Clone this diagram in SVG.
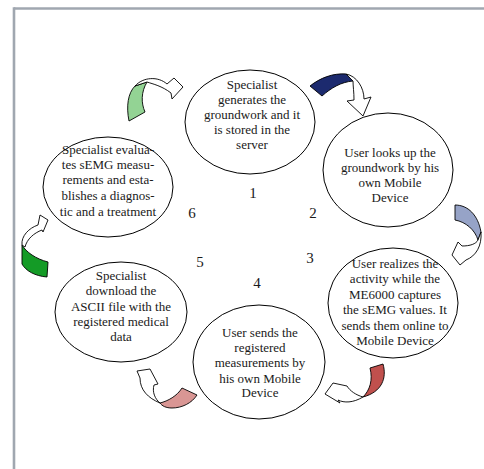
<svg xmlns="http://www.w3.org/2000/svg" width="484" height="469" viewBox="0 0 484 469">
<style>
.frame{stroke:#a0a7b0;stroke-width:2.6;fill:none}
.node ellipse{fill:#fff;stroke:#000;stroke-width:1}
.node text{font-family:"Liberation Serif","Times New Roman",serif;font-size:13px;fill:#1a1a1a;text-anchor:middle}
.num{font-family:"Liberation Serif","Times New Roman",serif;font-size:15px;fill:#1a1a1a;text-anchor:middle}
.conn path{stroke:#000;stroke-width:0.9;stroke-linejoin:round}
.w{fill:#fff}
</style>
<rect width="484" height="469" fill="#fff"/>
<line class="frame" x1="14" y1="8.5" x2="484" y2="8.5"/>
<line class="frame" x1="14" y1="7.2" x2="14" y2="469"/>

<g id="n1" class="node">
<ellipse cx="250" cy="122" rx="65" ry="52"/>
<text x="252"><tspan x="252" y="89">Specialist</tspan><tspan x="252" y="104">generates the</tspan><tspan x="252" y="119">groundwork and it</tspan><tspan x="252" y="134">is stored in the</tspan><tspan x="252" y="149">server</tspan></text>
</g>
<g id="n2" class="node">
<ellipse cx="388" cy="170" rx="65" ry="57"/>
<text><tspan x="390" y="157">User looks up the</tspan><tspan x="390" y="172">groundwork by his</tspan><tspan x="390" y="187">own Mobile</tspan><tspan x="390" y="202">Device</tspan></text>
</g>
<g id="n3" class="node">
<ellipse cx="393" cy="303" rx="65" ry="55"/>
<text><tspan x="395" y="268">User realizes the</tspan><tspan x="395" y="283">activity while the</tspan><tspan x="395" y="299">ME6000 captures</tspan><tspan x="395" y="314">the sEMG values. It</tspan><tspan x="395" y="330">sends them online to</tspan><tspan x="395" y="345">Mobile Device</tspan></text>
</g>
<g id="n4" class="node">
<ellipse cx="259" cy="362" rx="66" ry="57"/>
<text><tspan x="260" y="337">User sends the</tspan><tspan x="260" y="352">registered</tspan><tspan x="260" y="367">measurements by</tspan><tspan x="260" y="383">his own Mobile</tspan><tspan x="260" y="397">Device</tspan></text>
</g>
<g id="n5" class="node">
<ellipse cx="121" cy="312" rx="66" ry="50"/>
<text><tspan x="121" y="280">Specialist</tspan><tspan x="121" y="295">download the</tspan><tspan x="121" y="311">ASCII file with the</tspan><tspan x="121" y="326">registered medical</tspan><tspan x="121" y="341">data</tspan></text>
</g>
<g id="n6" class="node">
<ellipse cx="108" cy="187" rx="65" ry="50"/>
<text><tspan x="108" y="154">Specialist evalua-</tspan><tspan x="108" y="169">tes sEMG measu-</tspan><tspan x="108" y="184">rements and esta-</tspan><tspan x="108" y="200">blishes a diagnos-</tspan><tspan x="108" y="216">tic and a treatment</tspan></text>
</g>

<g id="numbers">
<text class="num" x="253" y="198">1</text>
<text class="num" x="313" y="218">2</text>
<text class="num" x="310" y="263">3</text>
<text class="num" x="257" y="288">4</text>
<text class="num" x="200" y="267">5</text>
<text class="num" x="192" y="218">6</text>
</g>

<g id="connectors" class="conn">
<!-- A: 6 -> 1 -->
<path fill="#93d394" d="M129,121 C126,106 128,93 135,86 L147,82 C141,92 141,103 145,112 Z"/>
<path class="w" d="M135,86 C143,77 158,76 167,84 L174,78 L183,87 L172,99 L171,93 C162,86 153,84 147,82 Z"/>
<!-- B: 1 -> 2 -->
<path fill="#1c2a6e" d="M310,86 C320,78 333,73 346,74 L353,81 C341,82 331,88 322,96 Z"/>
<path class="w" d="M346,74 C357,76 364,88 364,99 L371,97 L363,116 L347,101 L354,100 C354,92 353,86 353,81 Z"/>
<!-- C: 2 -> 3 -->
<path fill="#96a3c7" d="M455,205 C468,205 478,215 481,232 L478,240 C475,230 466,222 455,220 Z"/>
<path class="w" d="M481,232 C482,246 476,256 466,260 L460,265 L452,255 L458,242 L462,246 C470,246 476,244 478,240 Z"/>
<!-- D: 3 -> 4 -->
<path fill="#c0504d" d="M370,368 L383,364 C387,378 382,392 363,397 C370,390 373,380 370,368 Z"/>
<path class="w" d="M363,397 C353,403 344,403 338,400 L340,403 L325,394 L333,383 L347,386 C350,391 356,395 363,397 Z"/>
<!-- E: 4 -> 5 -->
<path fill="#d99694" d="M160,403 C168,401 177,396 182,388 L197,395 C192,403 182,408 172,408 C166,408 162,406 160,403 Z"/>
<path class="w" d="M160,403 C148,398 140,390 140,378 L137,371 L150,369 L158,384 L154,385 C152,392 155,399 160,403 Z"/>
<!-- F: 5 -> 6 -->
<path fill="#149b26" d="M22,245 C26,252 36,259 48,262 L47,277 C35,276 26,271 22,264 Z"/>
<path class="w" d="M22,245 C21,236 29,228 38,225 L40,215 L48,220 L43,232 L42,230 C34,233 27,239 25,247 Z"/>
</g>
</svg>
